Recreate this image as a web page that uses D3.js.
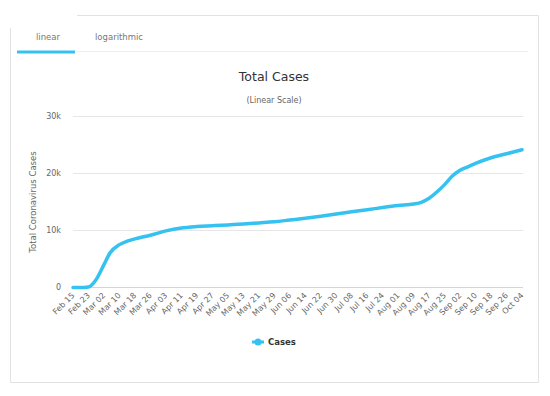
<!DOCTYPE html>
<html>
<head>
<meta charset="utf-8">
<script src="https://cdn.jsdelivr.net/npm/d3@7"></script>
<style>
  body { margin: 0; background: #fff; }
  svg { font-family: "DejaVu Sans", sans-serif; }
</style>
</head>
<body>
<script>
// data (2020)
const dates = ["Feb 15", "Feb 19", "Feb 23", "Feb 27", "Mar 02", "Mar 05", "Mar 10", "Mar 14", "Mar 18",
  "Mar 26", "Apr 03", "Apr 11", "Apr 19", "Apr 27", "May 05", "May 13", "May 21", "May 29", "Jun 06",
  "Jun 14", "Jun 22", "Jun 30", "Jul 08", "Jul 16", "Jul 24", "Aug 01", "Aug 09", "Aug 13", "Aug 17",
  "Aug 21", "Aug 25", "Aug 29", "Sep 02", "Sep 06", "Sep 10", "Sep 18", "Sep 26", "Oct 04"];
const cases = [0, 0, 100, 1400, 4000, 6000, 7500, 8100, 8500,
  9150, 9900, 10400, 10650, 10800, 10950, 11100, 11300, 11500, 11800,
  12100, 12450, 12850, 13250, 13600, 14000, 14350, 14600, 14900, 15600,
  16700, 18000, 19500, 20500, 21100, 21700, 22700, 23400, 24100];
const tickLabels = ["Feb 15", "Feb 23", "Mar 02", "Mar 10", "Mar 18", "Mar 26", "Apr 03", "Apr 11",
  "Apr 19", "Apr 27", "May 05", "May 13", "May 21", "May 29", "Jun 06", "Jun 14", "Jun 22", "Jun 30",
  "Jul 08", "Jul 16", "Jul 24", "Aug 01", "Aug 09", "Aug 17", "Aug 25", "Sep 02", "Sep 10", "Sep 18",
  "Sep 26", "Oct 04"];
const yTicks = [0, 10000, 20000, 30000];
const yTickLabels = ["0", "10k", "20k", "30k"];

const width = 550, height = 396;
const parse = s => d3.utcParse("%b %d %Y")(s + " 2020");
const fmt = d3.utcFormat("%b %d");

const svg = d3.select("body").append("svg")
  .attr("width", width)
  .attr("height", height);

// card
const card = svg.append("g").attr("fill", "none").attr("stroke", "#e2e2e2");
card.append("line").attr("x1", 77).attr("x2", 538.5).attr("y1", 15.5).attr("y2", 15.5);
card.append("line").attr("x1", 538.5).attr("x2", 538.5).attr("y1", 15.5).attr("y2", 382.5);
card.append("line").attr("x1", 10.5).attr("x2", 538.5).attr("y1", 382.5).attr("y2", 382.5);
card.append("line").attr("x1", 10.5).attr("x2", 10.5).attr("y1", 28).attr("y2", 382.5);

// tabs
svg.append("line").attr("x1", 77).attr("x2", 528).attr("y1", 51.5).attr("y2", 51.5)
  .attr("stroke", "#eeeeee");
svg.append("line").attr("x1", 17).attr("x2", 75).attr("y1", 52).attr("y2", 52)
  .attr("stroke", "#35c2f1").attr("stroke-width", 3);
svg.append("text").attr("x", 48).attr("y", 40).attr("text-anchor", "middle")
  .attr("font-size", 8.5).attr("fill", "#777").text("linear");
svg.append("text").attr("x", 119).attr("y", 40).attr("text-anchor", "middle")
  .attr("font-size", 8.5).attr("fill", "#777").text("logarithmic");

// titles
svg.append("text").attr("x", 274).attr("y", 81).attr("text-anchor", "middle")
  .attr("font-size", 12.5).attr("fill", "#333").text("Total Cases");
svg.append("text").attr("x", 274).attr("y", 103).attr("text-anchor", "middle")
  .attr("font-size", 8).attr("fill", "#666").text("(Linear Scale)");

let x = d3.scaleUtc()
  .domain([parse(dates[0]), parse(dates[dates.length - 1])])
  .range([73, 522]);

let y = d3.scaleLinear()
  .domain([0, 30000])
  .range([287.5, 116]);

// grid + y labels
let yAxis = svg.append("g").attr("class", "y axis");
yAxis.selectAll("line").data(yTicks.slice(1)).enter().append("line")
  .attr("x1", 73).attr("x2", 523)
  .attr("y1", d => Math.round(y(d)) + 0.5).attr("y2", d => Math.round(y(d)) + 0.5)
  .attr("stroke", "#e6e6e6");
yAxis.selectAll("text").data(yTicks).enter().append("text")
  .attr("x", 61).attr("y", d => y(d)).attr("dy", "0.35em")
  .attr("text-anchor", "end").attr("font-size", 8).attr("fill", "#666")
  .text((d, i) => yTickLabels[i]);

svg.append("text")
  .attr("transform", "translate(36, 202) rotate(-90)")
  .attr("text-anchor", "middle").attr("font-size", 8.5).attr("fill", "#666")
  .text("Total Coronavirus Cases");

// x axis
svg.append("line").attr("x1", 73).attr("x2", 523).attr("y1", 287.5).attr("y2", 287.5)
  .attr("stroke", "#ccd6eb");
svg.append("g").attr("class", "x axis")
  .selectAll("text").data(tickLabels.map(parse)).enter().append("text")
  .attr("transform", d => `translate(${x(d) + 2}, 296) rotate(-45)`)
  .attr("text-anchor", "end").attr("font-size", 8).attr("fill", "#666")
  .text(d => fmt(d));

// line
let line = d3.line()
  .x((d, i) => x(parse(dates[i])))
  .y(d => y(d))
  .curve(d3.curveMonotoneX);

svg.append("path")
  .datum(cases)
  .attr("d", line)
  .attr("fill", "none")
  .attr("stroke", "#35c2f1")
  .attr("stroke-width", 3.5)
  .attr("stroke-linejoin", "round")
  .attr("stroke-linecap", "round");

// legend
let legend = svg.append("g").attr("transform", "translate(252, 342)");
legend.append("line").attr("x1", 0).attr("x2", 12).attr("stroke", "#35c2f1").attr("stroke-width", 3);
legend.append("circle").attr("cx", 6).attr("r", 3.5).attr("fill", "#35c2f1");
legend.append("text").attr("x", 16).attr("dy", "0.35em").attr("font-size", 8.5)
  .attr("font-weight", "bold").attr("fill", "#333").text("Cases");
</script>
</body>
</html>
